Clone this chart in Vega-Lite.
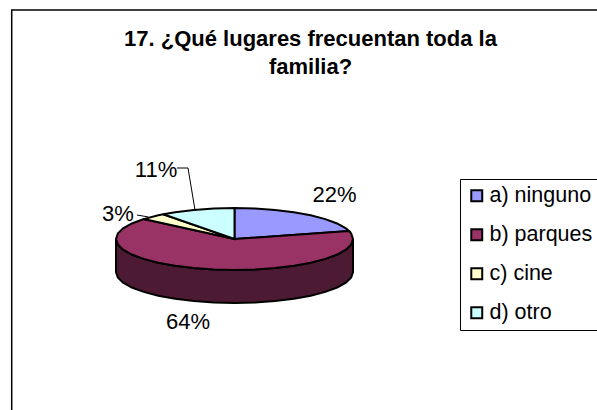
{
"$schema":"https://vega.github.io/schema/vega-lite/v6.json",
"width":597,"height":410,"autosize":"none","padding":0,"background":"white",
"config":{"view":{"stroke":null}},
"title":{"text":["17. ¿Qué lugares frecuentan toda la","familia?"],"font":"Liberation Sans","fontWeight":"bold","fontSize":22,"lineHeight":28,"color":"#000","anchor":"middle","dx":12,"baseline":"top","orient":"top","offset":-79},
"projection":{"type":"identity","reflectY":true,"scale":1,"translate":[234.5,239]},
"layer":[
{"data":{"values":[{"type":"Feature","properties":{"parte":"lateral"},"geometry":{"type":"Polygon","coordinates":[[[118.5,0],[116.7,-5.4],[111.4,-10.6],[102.6,-15.5],[90.8,-19.9],[76.2,-23.7],[59.3,-26.8],[40.5,-29.1],[20.6,-30.5],[0,-31],[-20.6,-30.5],[-40.5,-29.1],[-59.3,-26.8],[-76.2,-23.7],[-90.8,-19.9],[-102.6,-15.5],[-111.4,-10.6],[-116.7,-5.4],[-118.5,0],[-118.5,-33],[-116.7,-38.4],[-111.4,-43.6],[-102.6,-48.5],[-90.8,-52.9],[-76.2,-56.7],[-59.3,-59.8],[-40.5,-62.1],[-20.6,-63.5],[0,-64],[20.6,-63.5],[40.5,-62.1],[59.3,-59.8],[76.2,-56.7],[90.8,-52.9],[102.6,-48.5],[111.4,-43.6],[116.7,-38.4],[118.5,-33],[118.5,0]]]}}]},
"mark":{"type":"geoshape","fill":"#4D1A33","stroke":"#000","strokeWidth":2}},
{"data":{"values":[
{"type":"Feature","properties":{"respuesta":"a) ninguno","porcentaje":22},"geometry":{"type":"Polygon","coordinates":[[[0,0],[0,31],[20.6,30.5],[40.5,29.1],[59.3,26.8],[76.2,23.7],[90.8,19.9],[102.6,15.5],[111.4,10.6],[114.5,8],[0,0]]]}},
{"type":"Feature","properties":{"respuesta":"b) parques","porcentaje":64},"geometry":{"type":"Polygon","coordinates":[[[0,0],[114.5,8],[116.7,5.4],[118.5,0],[116.7,-5.4],[111.4,-10.6],[102.6,-15.5],[90.8,-19.9],[76.2,-23.7],[59.3,-26.8],[40.5,-29.1],[20.6,-30.5],[0,-31],[-20.6,-30.5],[-40.5,-29.1],[-59.3,-26.8],[-76.2,-23.7],[-90.8,-19.9],[-102.6,-15.5],[-111.4,-10.6],[-116.7,-5.4],[-118.5,0],[-116.7,5.4],[-111.4,10.6],[-102.6,15.5],[-90.8,19.9],[0,0]]]}},
{"type":"Feature","properties":{"respuesta":"c) cine","porcentaje":3},"geometry":{"type":"Polygon","coordinates":[[[0,0],[-90.8,19.9],[-76.2,23.7],[-71.3,24.8],[0,0]]]}},
{"type":"Feature","properties":{"respuesta":"d) otro","porcentaje":11},"geometry":{"type":"Polygon","coordinates":[[[0,0],[-71.3,24.8],[-59.3,26.8],[-40.5,29.1],[-20.6,30.5],[0,31],[0,0]]]}}
]},
"mark":{"type":"geoshape","stroke":"#000","strokeWidth":2},
"encoding":{"fill":{"field":"properties.respuesta","type":"nominal","scale":{"domain":["a) ninguno","b) parques","c) cine","d) otro"],"range":["#9999FF","#993366","#FFFFCC","#CCFFFF"]},
"legend":{"title":null,"orient":"none","legendX":460,"legendY":179,"padding":6,"rowPadding":16,"strokeColor":"#000","symbolType":"square","symbolSize":120,"symbolStrokeColor":"#000","symbolStrokeWidth":2,"symbolOpacity":1,"labelFont":"Liberation Sans","labelFontSize":21.5,"labelColor":"#000","labelOffset":2,"labelLimit":200}}}},
{"data":{"values":[
{"type":"Feature","properties":{"parte":"marco"},"geometry":{"type":"LineString","coordinates":[[-222.8,-171],[-222.8,229],[362.5,229]]}}
]},
"mark":{"type":"geoshape","filled":false,"stroke":"#000","strokeWidth":1.5}},
{"data":{"values":[
{"type":"Feature","properties":{"parte":"guía 11%"},"geometry":{"type":"LineString","coordinates":[[-57.5,71],[-46.5,71],[-39.5,29]]}},
{"type":"Feature","properties":{"parte":"guía 3%"},"geometry":{"type":"LineString","coordinates":[[-97.5,24],[-86,22]]}}
]},
"mark":{"type":"geoshape","filled":false,"stroke":"#000","strokeWidth":1}},
{"data":{"values":[
{"etiqueta":"22%","lon":100,"lat":44},
{"etiqueta":"64%","lon":-46.5,"lat":-83},
{"etiqueta":"3%","lon":-116.5,"lat":25},
{"etiqueta":"11%","lon":-78.5,"lat":69}
]},
"mark":{"type":"text","font":"Liberation Sans","fontSize":22,"color":"#000","align":"center","baseline":"middle"},
"encoding":{"longitude":{"field":"lon","type":"quantitative"},"latitude":{"field":"lat","type":"quantitative"},"text":{"field":"etiqueta","type":"nominal"}}}
]
}
